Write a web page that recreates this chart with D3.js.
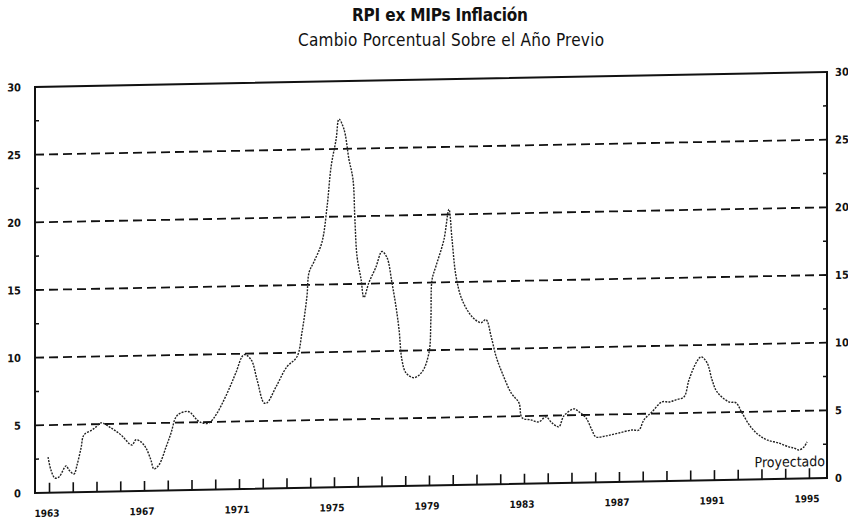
<!DOCTYPE html>
<html>
<head>
<meta charset="utf-8">
<script src="https://cdnjs.cloudflare.com/ajax/libs/d3/7.8.5/d3.min.js"></script>
<style>
  body { margin: 0; background: #fff; }
  text { font-family: "DejaVu Sans Condensed", "Liberation Sans Narrow", "Arial Narrow", sans-serif; fill: #111; }
</style>
</head>
<body>
<div id="chart"></div>
<script>
   // Data (year as fraction, % change)
   var years = [1962.96, 1963.08, 1963.25, 1963.42, 1963.72, 1963.84, 1964.05, 1964.18, 1964.35, 1964.47,
       1964.81, 1964.98, 1965.19, 1965.61, 1966.03, 1966.49, 1966.66, 1966.87, 1967.08, 1967.29,
       1967.42, 1967.63, 1967.93, 1968.14, 1968.35, 1968.56, 1968.89, 1969.23, 1969.44, 1969.74,
       1970.03, 1970.37, 1970.66, 1970.87, 1971.21, 1971.51, 1971.76, 1972.05, 1972.18, 1972.56,
       1973.02, 1973.44, 1973.65, 1973.86, 1973.95, 1974.16, 1974.49, 1974.71, 1974.88, 1975.09,
       1975.21, 1975.42, 1975.63, 1975.80, 1975.88, 1975.97, 1976.14, 1976.26, 1976.47, 1976.76,
       1977.02, 1977.23, 1977.44, 1977.61, 1977.74, 1977.86, 1978.03, 1978.37, 1978.71, 1979.00,
       1979.08, 1979.13, 1979.29, 1979.63, 1979.84, 1979.97, 1980.14, 1980.39, 1980.81, 1981.19,
       1981.40, 1981.62, 1981.83, 1982.08, 1982.46, 1982.79, 1982.92, 1983.29, 1983.63, 1983.92,
       1984.18, 1984.47, 1984.68, 1985.11, 1985.32, 1985.61, 1985.86, 1986.03, 1986.45, 1987.00,
       1987.55, 1987.84, 1988.05, 1988.39, 1988.81, 1989.11, 1989.40, 1989.74, 1989.95, 1990.25,
       1990.46, 1990.71, 1990.92, 1991.13, 1991.63, 1991.93, 1992.18, 1992.55, 1992.89, 1993.23,
       1993.73, 1994.16, 1994.37, 1994.58, 1994.79, 1994.92];

   var values = [2.64, 1.68, 1.08, 1.15, 1.96, 1.65, 1.35, 2.01, 3.27, 4.22,
       4.58, 4.80, 5.09, 4.70, 4.17, 3.41, 3.79, 3.63, 3.18, 2.28,
       1.61, 1.90, 3.22, 4.25, 5.43, 5.72, 5.79, 5.18, 4.95, 4.94,
       5.52, 6.62, 7.73, 8.61, 9.93, 9.55, 8.06, 6.34, 6.34, 7.51,
       8.98, 9.70, 11.47, 14.13, 15.91, 16.71, 18.11, 20.77, 23.73, 25.72,
       27.20, 26.45, 24.22, 22.73, 19.77, 17.03, 15.32, 13.98, 15.08, 16.19,
       17.36, 16.91, 15.05, 13.27, 11.56, 9.33, 8.36, 7.99, 8.41, 9.81,
       12.26, 15.22, 16.18, 18.16, 20.38, 18.16, 15.41, 13.70, 12.42, 11.96,
       12.18, 10.91, 9.42, 8.23, 6.73, 5.98, 4.87, 4.71, 4.55, 4.91,
       4.46, 4.16, 4.96, 5.46, 5.23, 4.78, 3.88, 3.36, 3.42, 3.62,
       3.82, 3.81, 4.55, 5.13, 5.86, 5.84, 5.99, 6.20, 7.45, 8.70,
       9.13, 8.68, 7.41, 6.52, 5.76, 5.68, 4.93, 3.88, 3.27, 2.90,
       2.65, 2.35, 2.26, 2.11, 2.33, 2.70];

   var yearTicks = d3.range(1963, 1996);
   var yearLabels = [1963, 1967, 1971, 1975, 1979, 1983, 1987, 1991, 1995];
   var yTicks = [0, 5, 10, 15, 20, 25, 30];
   var yMinorTicks = [2.5, 7.5, 12.5, 17.5, 22.5, 27.5];

   var svgWidth = 848;
   var svgHeight = 521;

   var margin = { top: 87, right: 21, bottom: 28, left: 35 };
   var width = svgWidth - margin.left - margin.right;
   var height = svgHeight - margin.top - margin.bottom;

   var svg = d3.select("#chart")
       .append("svg")
       .attr("width", svgWidth)
       .attr("height", svgHeight);

   // Titles
   svg.append("text")
       .attr("x", 440)
       .attr("y", 21)
       .attr("text-anchor", "middle")
       .style("font-size", "17px")
       .style("font-weight", "bold")
       .attr("textLength", 176)
       .text("RPI ex MIPs Inflación");

   svg.append("text")
       .attr("x", 451)
       .attr("y", 46)
       .attr("text-anchor", "middle")
       .style("font-size", "17px")
       .attr("textLength", 306)
       .text("Cambio Porcentual Sobre el Año Previo");

   // the scanned original is slightly tilted, so skew the plot a touch
   var chartGroup = svg.append("g")
       .attr("transform", `translate(${margin.left}, ${margin.top}) skewY(-1.085)`);

   var xScale = d3.scaleLinear()
       .domain([1962.41, 1995.76])
       .range([0, width]);

   var yScale = d3.scaleLinear()
       .domain([0, 30])
       .range([height, 0]);

   // dashed gridlines
   chartGroup.selectAll(".grid")
       .data(yTicks.filter(d => d > 0 && d < 30))
       .enter()
       .append("line")
       .attr("x1", 0)
       .attr("x2", width)
       .attr("y1", d => yScale(d))
       .attr("y2", d => yScale(d))
       .attr("stroke", "#111")
       .attr("stroke-width", 1.8)
       .attr("stroke-dasharray", "9,5");

   // frame
   chartGroup.append("rect")
       .attr("x", 0)
       .attr("y", 0)
       .attr("width", width)
       .attr("height", height)
       .attr("fill", "none")
       .attr("stroke", "#111")
       .attr("stroke-width", 2);

   // year ticks pointing up from the bottom axis
   var bottomAxis = d3.axisBottom(xScale)
       .tickValues(yearTicks)
       .tickSize(-10)
       .tickFormat("");
   var xAxisG = chartGroup.append("g")
       .attr("transform", `translate(0, ${height})`)
       .call(bottomAxis);
   xAxisG.select(".domain").remove();
   xAxisG.selectAll(".tick line").attr("stroke", "#111").attr("stroke-width", 1.6);

   chartGroup.selectAll(".xlabel")
       .data(yearLabels)
       .enter()
       .append("text")
       .attr("x", d => xScale(d) - 2)
       .attr("y", height + 24)
       .attr("text-anchor", "middle")
       .style("font-size", "10px")
       .style("font-weight", "bold")
       .text(d => d);

   // left and right axes
   var leftAxis = d3.axisLeft(yScale).tickValues(yTicks).tickSize(0).tickPadding(14);
   var leftG = chartGroup.append("g").call(leftAxis);
   leftG.select(".domain").remove();
   leftG.selectAll("text").style("font-size", "11px").style("font-weight", "bold").style("font-family", null);

   var rightAxis = d3.axisRight(yScale).tickValues(yTicks).tickSize(0).tickPadding(8);
   var rightG = chartGroup.append("g")
       .attr("transform", `translate(${width}, 0)`)
       .call(rightAxis);
   rightG.select(".domain").remove();
   rightG.selectAll("text").style("font-size", "11px").style("font-weight", "bold").style("font-family", null);

   // minor ticks on the inside of both axes
   chartGroup.selectAll(".minorL")
       .data(yMinorTicks)
       .enter()
       .append("line")
       .attr("x1", 0)
       .attr("x2", 4)
       .attr("y1", d => yScale(d))
       .attr("y2", d => yScale(d))
       .attr("stroke", "#111")
       .attr("stroke-width", 1.5);

   chartGroup.selectAll(".minorR")
       .data(yMinorTicks)
       .enter()
       .append("line")
       .attr("x1", width - 4)
       .attr("x2", width)
       .attr("y1", d => yScale(d))
       .attr("y2", d => yScale(d))
       .attr("stroke", "#111")
       .attr("stroke-width", 1.5);

   // inflation line
   var points = d3.zip(years, values);
   var line = d3.line()
       .x(d => xScale(d[0]))
       .y(d => yScale(d[1]))
       .curve(d3.curveCatmullRom);

   chartGroup.append("path")
       .datum(points)
       .attr("d", line)
       .attr("fill", "none")
       .attr("stroke", "#222")
       .attr("stroke-width", 1.4)
       .attr("stroke-dasharray", "2,1.2");

   chartGroup.append("text")
       .attr("x", width - 2)
       .attr("y", height - 12)
       .attr("text-anchor", "end")
       .style("font-size", "14px")
       .text("Proyectado");
</script>
</body>
</html>
